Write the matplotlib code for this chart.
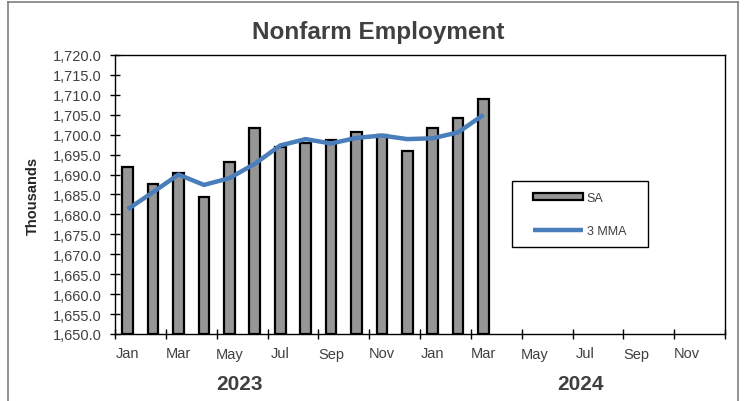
import numpy as np
import matplotlib
matplotlib.use("Agg")
import matplotlib.pyplot as plt
from matplotlib.lines import Line2D
from matplotlib.patches import Rectangle
from matplotlib.ticker import FuncFormatter, FixedLocator

plt.rcParams["font.family"] = ["Liberation Sans", "DejaVu Sans"]

# ---- data ----
month_labels = ["Jan", "Feb", "Mar", "Apr", "May", "Jun",
                "Jul", "Aug", "Sep", "Oct", "Nov", "Dec"] * 2
years = ["2023", "2024"]
sa = [1692.0, 1687.6, 1690.3, 1684.3, 1693.1, 1701.8, 1697.0, 1697.8,
      1698.6, 1700.7, 1700.0, 1695.8, 1701.7, 1704.2, 1709.0]
mma3 = [1681.3, 1685.6, 1690.0, 1687.4, 1689.1, 1692.7, 1697.3, 1698.9,
        1697.8, 1699.2, 1699.8, 1698.9, 1699.1, 1700.6, 1705.0]

W, H = 745, 402
fig = plt.figure(figsize=(W / 100, H / 100), dpi=100)
ax = fig.add_axes([115 / W, 1 - 335 / H, 610 / W, 279 / H])

x = np.arange(len(sa))
ymin = 1650.0
bars = ax.bar(x, np.array(sa) - ymin, bottom=ymin, width=0.42, color="#969696",
              edgecolor="black", linewidth=1.6, label="SA", zorder=2)
line, = ax.plot(np.arange(len(mma3)), mma3, color="#4a7ebb", linewidth=3.2,
                solid_capstyle="butt", label="3 MMA", zorder=3)

ax.set_xlim(-0.5, len(month_labels) - 0.5)
ax.set_ylim(1650, 1720)
ax.yaxis.set_major_locator(FixedLocator(np.arange(1650, 1720.1, 5)))
ax.yaxis.set_major_formatter(FuncFormatter(lambda v, p: f"{v:,.1f}"))

# boundaries every two months carry the tick marks, labels sit on month centres
ax.set_xticks(np.arange(-0.5, len(month_labels), 2))
ax.set_xticklabels([])
ax.set_xticks(np.arange(0, len(month_labels), 2), minor=True)
ax.set_xticklabels(month_labels[::2], minor=True)
ax.tick_params(axis="x", which="minor", length=0, pad=9, labelsize=10.5, labelcolor="#404040")
ax.tick_params(axis="x", which="major", direction="inout", length=7, width=1)
ax.tick_params(axis="y", direction="inout", length=7, width=1, pad=6,
               labelsize=10.5, labelcolor="#404040")

for s in ax.spines.values():
    s.set_linewidth(1.0)
    s.set_color("black")

ax.set_ylabel("Thousands", fontsize=10.5, fontweight="bold", color="#262626")
ax.yaxis.set_label_coords((40 - 115) / 610, 0.5)

fig.text(378 / W, 1 - 32 / H, "Nonfarm Employment", fontsize=17.5, fontweight="bold",
         color="#404040", ha="center", va="center")
fig.text(240 / W, 1 - 385 / H, years[0], fontsize=15, fontweight="bold",
         color="#404040", ha="center", va="center")
fig.text(580 / W, 1 - 385 / H, years[1], fontsize=15, fontweight="bold",
         color="#404040", ha="center", va="center")

# legend: fixed-size box like the spreadsheet original
fig.add_artist(Rectangle((512 / W, 1 - 248 / H), 136 / W, 66 / H, transform=fig.transFigure,
                         fill=False, edgecolor="black", linewidth=1.0))
leg = ax.legend([bars, line], ["SA", "3 MMA"], loc="upper left",
                bbox_to_anchor=(533 / W, 1 - 193 / H), bbox_transform=fig.transFigure,
                frameon=False, fontsize=9, handlelength=4.0, handletextpad=0.3,
                labelspacing=1.65, borderpad=0, borderaxespad=0, handleheight=0.55)
for t in leg.get_texts():
    t.set_color("#404040")

# outer chart frame
frame_col = "#7f7f7f"
fig.add_artist(Line2D([8 / W, 738 / W], [1 - 3 / H, 1 - 3 / H], color=frame_col, lw=1.2))
fig.add_artist(Line2D([8 / W, 8 / W], [0, 1 - 3 / H], color=frame_col, lw=1.2))
fig.add_artist(Line2D([738 / W, 738 / W], [0, 1 - 3 / H], color=frame_col, lw=1.2))

fig.savefig("out.png", dpi=100)
